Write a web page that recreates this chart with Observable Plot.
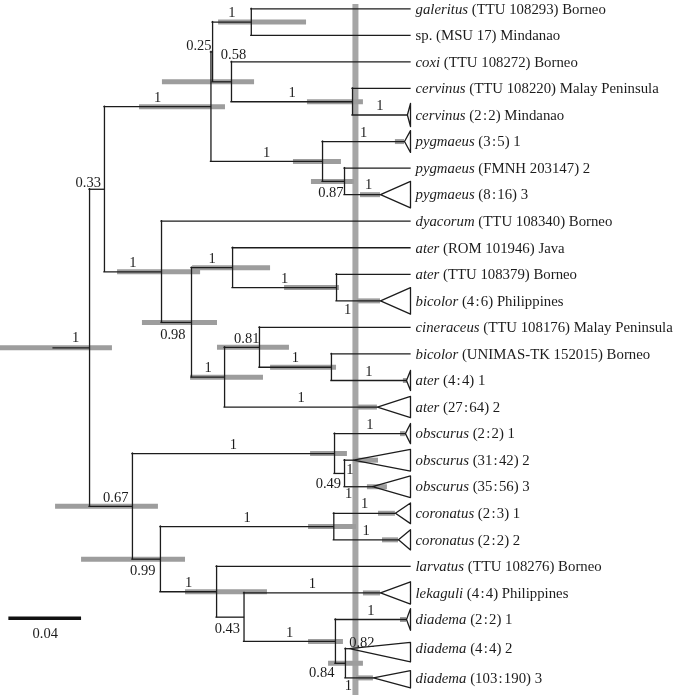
<!DOCTYPE html>
<html><head><meta charset="utf-8">
<script src="https://cdn.jsdelivr.net/npm/d3@7"></script>
<script src="https://cdn.jsdelivr.net/npm/@observablehq/plot@0.6"></script>
<style>
html,body{margin:0;padding:0;background:#fff;}
#chart{width:676px;height:695px;overflow:hidden;}
#chart svg{will-change:transform;background:transparent !important;}
#chart svg text{-webkit-font-smoothing:antialiased;}
</style></head><body><div id="chart"></div>
<script>
// ---------- DATA ----------
const R = (a,b)=>`(${a}\u200A:\u200A${b})`;
const tipSpecies = ["galeritus","","coxi","cervinus","cervinus","pygmaeus","pygmaeus","pygmaeus","dyacorum","ater","ater","bicolor","cineraceus","bicolor","ater","ater","obscurus","obscurus","obscurus","coronatus","coronatus","larvatus","lekaguli","diadema","diadema","diadema"];
const tipDetail = ["(TTU 108293) Borneo","sp. (MSU 17) Mindanao","(TTU 108272) Borneo","(TTU 108220) Malay Peninsula",R(2,2)+" Mindanao",R(3,5)+" 1","(FMNH 203147) 2",R(8,16)+" 3","(TTU 108340) Borneo","(ROM 101946) Java","(TTU 108379) Borneo",R(4,6)+" Philippines","(TTU 108176) Malay Peninsula","(UNIMAS-TK 152015) Borneo",R(4,4)+" 1",R(27,64)+" 2",R(2,2)+" 1",R(31,42)+" 2",R(35,56)+" 3",R(2,3)+" 1",R(2,2)+" 2","(TTU 108276) Borneo",R(4,4)+" Philippines",R(2,2)+" 1",R(4,4)+" 2",R(103,190)+" 3"];
const tipRow = [0,1,2,3,4,5,6,7,8,9,10,11,12,13,14,15,16,17,18,19,20,21,22,23,24.1,25.2];
const tipParent = ["N1","N1","N2","N3","N3","T","U","U","D","G","H","H","J","K","K","I","L","M","M","O","O","P","Q","R","S","S"];
// collapsed clades: crown age, triangle extent above / below (rows)
const tipCrownAge = [null,null,null,null,0.0017,0.0033,null,0.0165,null,null,null,0.0165,null,null,0.0022,0.0182,0.0028,0.0314,0.0209,0.0083,0.0066,null,0.0165,0.0022,0.0336,0.0204];
const tipCladeUp = [0,0,0,0,0.44,0.41,0,0.5,0,0,0,0.5,0,0,0.38,0.4,0.38,0.41,0.41,0.39,0.38,0,0.42,0.41,0.24,0.27];
const tipCladeDown = [0,0,0,0,0.44,0.41,0,0.5,0,0,0,0.5,0,0,0.38,0.4,0.38,0.41,0.41,0.39,0.38,0,0.42,0.41,0.5,0.38];
const tipSupport = [null,null,null,null,1,1,null,1,null,null,null,1,null,null,1,1,1,1,1,1,1,null,1,1,0.82,1];
const tipHpdLo = [null,null,null,null,null,0.0083,null,0.0275,null,null,null,0.0292,null,null,0.0039,0.0292,0.0055,0.0314,0.0237,0.0176,0.0154,null,0.0259,0.0055,null,0.0297];
const tipHpdHi = [null,null,null,null,null,0.0033,null,0.0165,null,null,null,0.0165,null,null,0.0017,0.0182,0.0028,0.0176,0.0127,0.0083,0.0066,null,0.0165,0.0022,null,0.0204];

const nodeId =      ["R0","A","B","C","X","N1","N2","N3","T","U","D","F","G","H","I","J","K","L","M","N","O","P","Q","R","S"];
const nodeParent =  [null,"R0","R0","A","C","X","X","N2","C","T","A","D","F","G","F","I","J","B","L","B","N","N","P","Q","R"];
const nodeAge =     [0.1766,0.1684,0.1530,0.1098,0.1089,0.0876,0.0985,0.0319,0.0484,0.0363,0.1370,0.1205,0.0979,0.0407,0.1023,0.0831,0.0435,0.0418,0.0363,0.1376,0.0422,0.1067,0.0916,0.0413,0.0358];
const nodeSupport = [1,0.33,0.67,1,0.25,1,0.58,1,1,0.87,1,0.98,1,1,1,0.81,1,1,0.49,0.99,1,1,0.43,1,0.84];
const nodeHpdLo =   [0.2256,null,0.1953,0.1491,null,0.1056,0.1365,0.0567,0.0644,0.0545,0.1612,0.1475,0.1199,0.0693,0.1210,0.1062,0.0770,0.0550,null,0.1810,0.0561,0.1238,null,0.0561,0.0451];
const nodeHpdHi =   [0.1640,null,0.1387,0.1018,null,0.0572,0.0858,0.0259,0.0380,0.0308,0.1155,0.1062,0.0770,0.0391,0.0809,0.0666,0.0407,0.0347,null,0.1238,0.0297,0.0787,null,0.0369,0.0259];
const rootStubAge = 0.1964;
const eventAge = 0.0303;          // grey vertical reference line
const scaleBarLength = 0.04;
const scaleBarStart = 0.221;
const scaleBarRow = 22.95;

// label placement (presentation only): where = "mid" (branch midpoint) or "node"
const labelLayout = {
  R0:{where:"mid",anchor:"middle",dx:4,dy:-10.5}, A:{where:"node",anchor:"end",dx:-3.5,dy:-6.5},
  B:{where:"node",anchor:"end",dx:-4,dy:-9}, X:{where:"node",anchor:"end",dx:-1,dy:-6.5},
  N2:{where:"node",anchor:"middle",dx:2,dy:-27.5}, U:{where:"node",anchor:"end",dx:-1,dy:11},
  F:{where:"node",anchor:"end",dx:-6,dy:12}, J:{where:"node",anchor:"end",dx:0,dy:-9},
  M:{where:"node",anchor:"end",dx:-3.5,dy:10}, N:{where:"node",anchor:"end",dx:-5,dy:11},
  Q:{where:"node",anchor:"end",dx:-4,dy:11.5}, S:{where:"node",anchor:"end",dx:-11,dy:9},
  t7:{where:"mid",anchor:"middle",dx:6,dy:-10}, t11:{where:"mid",anchor:"middle",dx:-11,dy:8},
  t17:{where:"mid",anchor:"middle",dx:1,dy:9}, t18:{where:"mid",anchor:"middle",dx:-10,dy:7},
  t24:{where:"mid",anchor:"middle",dx:14.5,dy:-6.5}, t25:{where:"mid",anchor:"middle",dx:-11,dy:7}
};

// ---------- TREE GEOMETRY ----------
const ageOf = Object.fromEntries(nodeId.map((id,i)=>[id,nodeAge[i]]));
const children = {};
nodeId.forEach((id,i)=>{const p=nodeParent[i]; if(p)(children[p] ||= []).push({type:"node",id});});
tipParent.forEach((p,i)=>{(children[p] ||= []).push({type:"tip",i});});
const nodeY = {};
function yOfChild(c){return c.type==="tip"?tipRow[c.i]:yOfNode(c.id);}
function yOfNode(id){
  if(nodeY[id]!=null) return nodeY[id];
  const ys=children[id].map(yOfChild);
  return nodeY[id]=(Math.min(...ys)+Math.max(...ys))/2;
}
nodeId.forEach(yOfNode);

const horiz=[], vert=[], tris=[], bars=[], labels=[];
nodeId.forEach((id,i)=>{
  const y=nodeY[id];
  const from = nodeParent[i]?ageOf[nodeParent[i]]:rootStubAge;
  horiz.push({x1:from,x2:nodeAge[i],y});
  const ys=children[id].map(yOfChild);
  vert.push({x:nodeAge[i],y1:Math.min(...ys),y2:Math.max(...ys)});
  if(nodeHpdLo[i]!=null) bars.push({x1:nodeHpdLo[i],x2:nodeHpdHi[i],y});
  labels.push({key:id,text:String(nodeSupport[i]),mid:(from+nodeAge[i])/2,node:nodeAge[i],y});
});
tipRow.forEach((row,i)=>{
  const from=ageOf[tipParent[i]];
  const end=tipCrownAge[i]??0;
  horiz.push({x1:from,x2:end,y:row});
  if(tipCrownAge[i]!=null){
    tris.push({id:i,x:end,y:row},{id:i,x:0,y:row-tipCladeUp[i]},{id:i,x:0,y:row+tipCladeDown[i]});
  }
  if(tipHpdLo[i]!=null) bars.push({x1:tipHpdLo[i],x2:tipHpdHi[i],y:row});
  if(tipSupport[i]!=null) labels.push({key:"t"+i,text:String(tipSupport[i]),mid:(from+end)/2,node:end,y:row});
});

// ---------- TEXT MEASURE ----------
const SERIF="'Liberation Serif','Times New Roman',serif";
const TIPFS=14.8, SUPFS=14.5;
const ctx=document.createElement("canvas").getContext("2d");
ctx.font=`italic ${TIPFS}px 'Liberation Serif'`;
const tips = tipRow.map((row,i)=>({row,species:tipSpecies[i],detail:tipDetail[i],
  w: tipSpecies[i]? ctx.measureText(tipSpecies[i]+" ").width : 0}));

const ink="#1c1c1c", grey="#9d9d9d";
const marks=[
  Plot.ruleX([eventAge],{x:d=>d,y1:-0.16,y2:26.3,stroke:"#a6a6a6",strokeWidth:6}),
  Plot.ruleY(bars,{x1:"x1",x2:"x2",y:"y",stroke:grey,strokeWidth:5}),
  Plot.ruleY(horiz,{x1:"x1",x2:"x2",y:"y",stroke:ink,strokeWidth:1.3,strokeLinecap:"square"}),
  Plot.ruleX(vert,{x:"x",y1:"y1",y2:"y2",stroke:ink,strokeWidth:1.3,strokeLinecap:"square"}),
  Plot.line(tris,{x:"x",y:"y",z:"id",curve:"linear-closed",stroke:ink,strokeWidth:1.3,fill:"none"}),
  Plot.text(tips.filter(d=>d.species),{x:()=>0,y:"row",text:"species",textAnchor:"start",dx:5,fontStyle:"italic",fontSize:TIPFS,fontFamily:SERIF,fill:ink}),
  Plot.ruleY([{x1:scaleBarStart,x2:scaleBarStart-scaleBarLength,y:scaleBarRow}],{x1:"x1",x2:"x2",y:"y",stroke:"#111",strokeWidth:3.5}),
  Plot.text([{x:scaleBarStart-scaleBarLength/2,y:scaleBarRow,t:String(scaleBarLength)}],{x:"x",y:"y",text:"t",dy:15.5,fontSize:SUPFS,fontFamily:SERIF,fill:ink})
];
tips.forEach(d=>{
  marks.push(Plot.text([d],{x:()=>0,y:"row",text:"detail",textAnchor:"start",dx:5+d.w,fontSize:TIPFS,fontFamily:SERIF,fill:ink}));
});
labels.forEach(l=>{
  const lay=labelLayout[l.key]||{where:"mid",anchor:"middle",dx:0,dy:-9.5};
  marks.push(Plot.text([l],{x:lay.where==="mid"?"mid":"node",y:"y",text:"text",textAnchor:lay.anchor,dx:lay.dx,dy:lay.dy,fontSize:SUPFS,fontFamily:SERIF,fill:ink}));
});

const chart=Plot.plot({
  width:676,height:695,margin:0,
  x:{domain:[0.2256,0],range:[0,410],axis:null},
  y:{domain:[0,25.2],range:[8.3,677.4],axis:null},
  style:{fontFamily:SERIF,overflow:"hidden"},
  marks
});
document.getElementById("chart").appendChild(chart);
</script></body></html>
